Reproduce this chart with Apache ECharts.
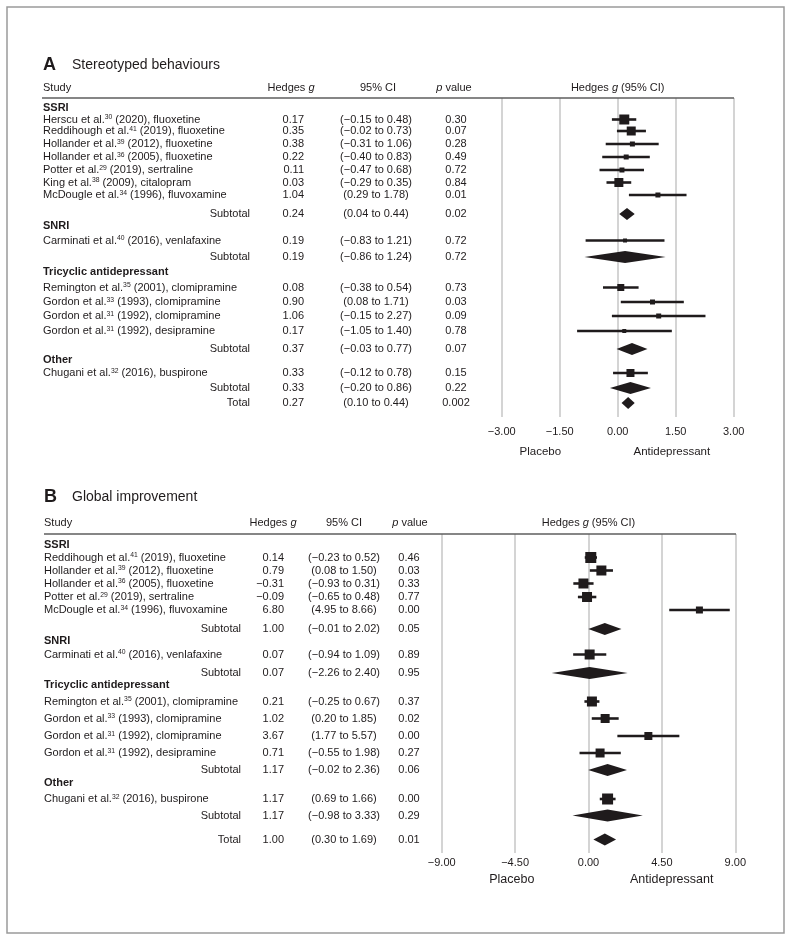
<!DOCTYPE html>
<html><head><meta charset="utf-8">
<script src="https://cdn.jsdelivr.net/npm/echarts@6/dist/echarts.min.js"></script>
<style>html,body{margin:0;padding:0;background:#fff}#c{width:791px;height:941px}</style>
</head><body><div id="c"></div>
<script>
// ================= DATA =================
// Panel A: Stereotyped behaviours
const groupsA = ['SSRI', 'SNRI', 'Tricyclic antidepressant', 'Other'];
const groupCountA = [7, 1, 4, 1];
const authorsA = ['Herscu', 'Reddihough', 'Hollander', 'Hollander', 'Potter', 'King', 'McDougle', 'Carminati', 'Remington', 'Gordon', 'Gordon', 'Gordon', 'Chugani'];
const refsA = ['30', '41', '39', '36', '29', '38', '34', '40', '35', '33', '31', '31', '32'];
const yearsA = ['2020', '2019', '2012', '2005', '2019', '2009', '1996', '2016', '2001', '1993', '1992', '1992', '2016'];
const drugsA = ['fluoxetine', 'fluoxetine', 'fluoxetine', 'fluoxetine', 'sertraline', 'citalopram', 'fluvoxamine', 'venlafaxine', 'clomipramine', 'clomipramine', 'clomipramine', 'desipramine', 'buspirone'];
const gA  = [0.17, 0.35, 0.38, 0.22, 0.11, 0.03, 1.04, 0.19, 0.08, 0.90, 1.06, 0.17, 0.33];
const loA = [-0.15, -0.02, -0.31, -0.40, -0.47, -0.29, 0.29, -0.83, -0.38, 0.08, -0.15, -1.05, -0.12];
const hiA = [0.48, 0.73, 1.06, 0.83, 0.68, 0.35, 1.78, 1.21, 0.54, 1.71, 2.27, 1.40, 0.78];
const pA  = ['0.30', '0.07', '0.28', '0.49', '0.72', '0.84', '0.01', '0.72', '0.73', '0.03', '0.09', '0.78', '0.15'];
const subGA  = [0.24, 0.19, 0.37, 0.33];
const subLoA = [0.04, -0.86, -0.03, -0.20];
const subHiA = [0.44, 1.24, 0.77, 0.86];
const subPA  = ['0.02', '0.72', '0.07', '0.22'];
const totalA = [0.27, 0.10, 0.44];
const totalPA = '0.002';
const ticksA = [-3, -1.5, 0, 1.5, 3];

// Panel B: Global improvement
const groupsB = ['SSRI', 'SNRI', 'Tricyclic antidepressant', 'Other'];
const groupCountB = [5, 1, 4, 1];
const authorsB = ['Reddihough', 'Hollander', 'Hollander', 'Potter', 'McDougle', 'Carminati', 'Remington', 'Gordon', 'Gordon', 'Gordon', 'Chugani'];
const refsB = ['41', '39', '36', '29', '34', '40', '35', '33', '31', '31', '32'];
const yearsB = ['2019', '2012', '2005', '2019', '1996', '2016', '2001', '1993', '1992', '1992', '2016'];
const drugsB = ['fluoxetine', 'fluoxetine', 'fluoxetine', 'sertraline', 'fluvoxamine', 'venlafaxine', 'clomipramine', 'clomipramine', 'clomipramine', 'desipramine', 'buspirone'];
const gB  = [0.14, 0.79, -0.31, -0.09, 6.80, 0.07, 0.21, 1.02, 3.67, 0.71, 1.17];
const loB = [-0.23, 0.08, -0.93, -0.65, 4.95, -0.94, -0.25, 0.20, 1.77, -0.55, 0.69];
const hiB = [0.52, 1.50, 0.31, 0.48, 8.66, 1.09, 0.67, 1.85, 5.57, 1.98, 1.66];
const pB  = ['0.46', '0.03', '0.33', '0.77', '0.00', '0.89', '0.37', '0.02', '0.00', '0.27', '0.00'];
const subGB  = [1.00, 0.07, 1.17, 1.17];
const subLoB = [-0.01, -2.26, -0.02, -0.98];
const subHiB = [2.02, 2.40, 2.36, 3.33];
const subPB  = ['0.05', '0.95', '0.06', '0.29'];
const totalB = [1.00, 0.30, 1.69];
const totalPB = '0.01';
const ticksB = [-9, -4.5, 0, 4.5, 9];

// ================= LAYOUT / STYLE =================
const rowYA = [9.7, 21.5, 33, 46, 59, 72, 84.5, 97, 116, 128, 142.5, 159, 174, 189.5, 204, 218, 233, 251, 262, 275, 290, 305];
const rowYB = [11, 23.5, 36.5, 49.5, 63, 76, 95, 107, 120.5, 139, 151, 167.5, 184.5, 202, 219, 236, 249, 265, 281.5, 305.5];
const boxA = [10, 9, 5, 5, 5, 9, 5, 4, 7, 5, 5, 4, 8];
const boxB = [11, 10, 10, 10, 7, 10, 10, 9, 8, 9, 11];
const FONT = '"Liberation Sans", Arial, Helvetica, sans-serif';
const INK = '#1f1b1c';
const GRID = '#c6c6c6';
const FS = 11;

function fmt(v) { const s = Math.abs(v).toFixed(2); return (v < -1e-9 ? '\u2212' : '') + s; }

function buildRows(groups, counts, authors, refs, years, drugs, g, lo, hi, p, sg, slo, shi, sp, tot, totP, ys, boxes) {
  const rows = []; let k = 0;
  groups.forEach((name, gi) => {
    rows.push({ kind: 'group', label: name });
    for (let j = 0; j < counts[gi]; j++) {
      rows.push({ kind: 'study', label: authors[k] + ' et al.{s|' + refs[k] + '} (' + years[k] + '), ' + drugs[k],
        g: g[k], lo: lo[k], hi: hi[k], p: p[k], box: boxes[k] });
      k++;
    }
    rows.push({ kind: 'sub', label: 'Subtotal', g: sg[gi], lo: slo[gi], hi: shi[gi], p: sp[gi] });
  });
  rows.push({ kind: 'total', label: 'Total', g: tot[0], lo: tot[1], hi: tot[2], p: totP });
  rows.forEach((r, i) => { r.y = ys[i]; });
  return rows;
}

const rowsA = buildRows(groupsA, groupCountA, authorsA, refsA, yearsA, drugsA, gA, loA, hiA, pA, subGA, subLoA, subHiA, subPA, totalA, totalPA, rowYA, boxA);
const rowsB = buildRows(groupsB, groupCountB, authorsB, refsB, yearsB, drugsB, gB, loB, hiB, pB, subGB, subLoB, subHiB, subPB, totalB, totalPB, rowYB, boxB);

const colsA = { study: 43, sub: 250, g: 304, ci: 376, p: 456, hStudy: 43, hG: 291, hCI: 378, hP: 454, lineL: 42, lineR: 734, title: 43, titleText: 72, titleY: -33, headY: -10 };
const colsB = { study: 44, sub: 241, g: 284, ci: 344, p: 409, hStudy: 44, hG: 273, hCI: 344, hP: 410, lineL: 44, lineR: 736, title: 44, titleText: 72, titleY: -37, headY: -11 };

function txt(text, x, y, align, fs, extra) {
  return { type: 'text', style: Object.assign({ text: text, x: x, y: y, align: align, verticalAlign: 'middle',
    fontFamily: FONT, fontSize: fs, fill: INK,
    rich: {
      s: { fontFamily: FONT, fontSize: 6.8, fill: INK, verticalAlign: 'top' },
      i: { fontFamily: FONT, fontSize: fs, fontStyle: 'italic', fill: INK }
    } }, extra || {}) };
}

function tableRender(rows, cols) {
  return function (params, api) {
    const r = rows[params.dataIndex];
    const y = api.coord([0, r.y])[1];
    const X = v => api.coord([v, r.y])[0];
    const ch = [];
    if (r.kind === 'group') {
      ch.push(txt(r.label, X(cols.study), y, 'left', FS, { fontWeight: 'bold' }));
    } else {
      if (r.kind === 'study') ch.push(txt(r.label, X(cols.study), y, 'left', FS));
      else ch.push(txt(r.label, X(cols.sub), y, 'right', FS));
      ch.push(txt(fmt(r.g), X(cols.g), y, 'right', FS));
      ch.push(txt('(' + fmt(r.lo) + ' to ' + fmt(r.hi) + ')', X(cols.ci), y, 'center', FS));
      ch.push(txt(r.p, X(cols.p), y, 'center', FS));
    }
    return { type: 'group', children: ch };
  };
}

function headerRender(cols, letter, title) {
  return function (params, api) {
    const X = v => api.coord([v, 0])[0];
    const Y = v => api.coord([0, v])[1];
    const y0 = Y(0);
    return { type: 'group', children: [
      txt(letter, X(cols.title), Y(cols.titleY), 'left', 18, { fontWeight: 'bold' }),
      txt(title, X(cols.titleText), Y(cols.titleY), 'left', 14),
      txt('Study', X(cols.hStudy), Y(cols.headY), 'left', FS),
      txt('Hedges {i|g}', X(cols.hG), Y(cols.headY), 'center', FS),
      txt('95% CI', X(cols.hCI), Y(cols.headY), 'center', FS),
      txt('{i|p} value', X(cols.hP), Y(cols.headY), 'center', FS),
      { type: 'line', shape: { x1: X(cols.lineL), y1: y0, x2: X(cols.lineR), y2: y0 }, style: { stroke: '#5e5e5e', lineWidth: 1.5 } }
    ] };
  };
}

function plotHeaderRender(headY, lblY, placeboX, antiX, lblSize) {
  return function (params, api) {
    return { type: 'group', children: [
      txt('Hedges {i|g} (95% CI)', api.coord([0, headY])[0], api.coord([0, headY])[1], 'center', FS),
      txt('Placebo', api.coord([placeboX, lblY])[0], api.coord([placeboX, lblY])[1], 'center', lblSize),
      txt('Antidepressant', api.coord([antiX, lblY])[0], api.coord([antiX, lblY])[1], 'center', lblSize)
    ] };
  };
}

function plotRender(params, api) {
  const g = api.value(0), lo = api.value(1), hi = api.value(2), y = api.value(3), s = api.value(4), kind = api.value(5);
  const pc = api.coord([g, y]), pl = api.coord([lo, y]), ph = api.coord([hi, y]);
  if (kind === 0) {
    return { type: 'group', children: [
      { type: 'line', shape: { x1: pl[0], y1: pl[1], x2: ph[0], y2: ph[1] }, style: { stroke: INK, lineWidth: 2.6 } },
      { type: 'rect', shape: { x: pc[0] - s / 2, y: pc[1] - s / 2, width: s, height: s }, style: { fill: INK } }
    ] };
  }
  const h = s / 2;
  return { type: 'polygon', shape: { points: [[pl[0], pl[1]], [pc[0], pc[1] - h], [ph[0], ph[1]], [pc[0], pc[1] + h]] }, style: { fill: INK } };
}

function plotData(rows, dh) {
  return rows.filter(r => r.kind !== 'group').map(r => [r.g, r.lo, r.hi, r.y, r.kind === 'study' ? r.box : dh, r.kind === 'study' ? 0 : 1]);
}

function valueAxis(gi, min, max, interval, margin) {
  return { gridIndex: gi, type: 'value', min: min, max: max, interval: interval,
    axisLine: { show: false }, axisTick: { show: false },
    splitLine: { show: true, lineStyle: { color: GRID, width: 1.5 } },
    axisLabel: { show: true, showMinLabel: true, showMaxLabel: true, margin: margin, formatter: v => fmt(v), fontFamily: FONT, fontSize: 11, color: INK } };
}
function hiddenAxis(gi, type, min, max, inverse) {
  return { gridIndex: gi, type: type, min: min, max: max, inverse: !!inverse, show: false, splitLine: { show: false } };
}

const option = {
  animation: false,
  backgroundColor: '#fff',
  grid: [
    { left: 0, width: 791, top: 48, height: 420 },            // table A
    { left: 501.7, width: 232, top: 98, height: 319 },        // plot A
    { left: 0, width: 791, top: 484, height: 410 },           // table B
    { left: 441.7, width: 293.6, top: 534, height: 319 }      // plot B
  ],
  xAxis: [
    hiddenAxis(0, 'value', 0, 791),
    valueAxis(1, ticksA[0], ticksA[ticksA.length - 1], ticksA[1] - ticksA[0], 9),
    hiddenAxis(2, 'value', 0, 791),
    valueAxis(3, ticksB[0], ticksB[ticksB.length - 1], ticksB[1] - ticksB[0], 4)
  ],
  yAxis: [
    hiddenAxis(0, 'value', -50, 370, true),
    hiddenAxis(1, 'value', 0, 319, true),
    hiddenAxis(2, 'value', -50, 360, true),
    hiddenAxis(3, 'value', 0, 319, true)
  ],
  graphic: [
    { type: 'rect', shape: { x: 7, y: 7, width: 777, height: 926 }, style: { fill: 'none', stroke: '#9a9a9a', lineWidth: 1.5 }, silent: true }
  ],
  series: [
    { type: 'custom', xAxisIndex: 0, yAxisIndex: 0, clip: false, encode: { x: 0, y: 1 }, data: rowsA.map(r => [0, r.y]), renderItem: tableRender(rowsA, colsA) },
    { type: 'custom', xAxisIndex: 0, yAxisIndex: 0, clip: false, encode: { x: 0, y: 1 }, data: [[0, 0]], renderItem: headerRender(colsA, 'A', 'Stereotyped behaviours') },
    { type: 'custom', xAxisIndex: 1, yAxisIndex: 1, clip: false, encode: { x: 0, y: 1 }, data: [[0, 0]], renderItem: plotHeaderRender(-10, 354, -2.0, 1.4, 11.5) },
    { type: 'custom', xAxisIndex: 1, yAxisIndex: 1, clip: false, encode: { x: [0, 1, 2], y: 3 }, data: plotData(rowsA, 12), renderItem: plotRender },
    { type: 'custom', xAxisIndex: 2, yAxisIndex: 2, clip: false, encode: { x: 0, y: 1 }, data: rowsB.map(r => [0, r.y]), renderItem: tableRender(rowsB, colsB) },
    { type: 'custom', xAxisIndex: 2, yAxisIndex: 2, clip: false, encode: { x: 0, y: 1 }, data: [[0, 0]], renderItem: headerRender(colsB, 'B', 'Global improvement') },
    { type: 'custom', xAxisIndex: 3, yAxisIndex: 3, clip: false, encode: { x: 0, y: 1 }, data: [[0, 0]], renderItem: plotHeaderRender(-11, 346, -4.7, 5.1, 12.5) },
    { type: 'custom', xAxisIndex: 3, yAxisIndex: 3, clip: false, encode: { x: [0, 1, 2], y: 3 }, data: plotData(rowsB, 12), renderItem: plotRender }
  ]
};

const chart = echarts.init(document.getElementById('c'), null, { renderer: 'canvas', width: 791, height: 941 });
chart.setOption(option);
</script>
</body></html>
